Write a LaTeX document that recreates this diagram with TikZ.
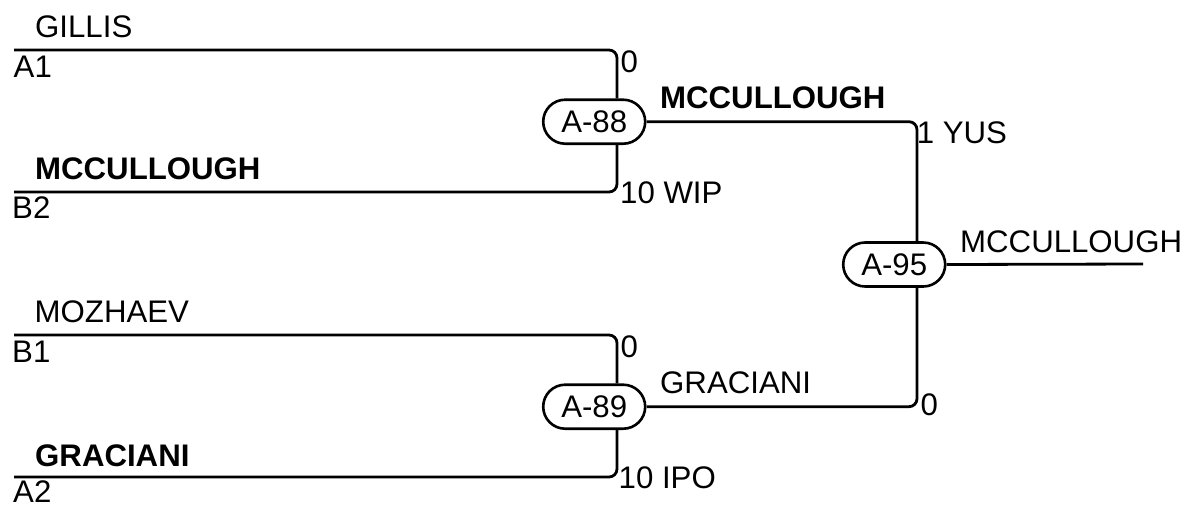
\documentclass[tikz,border=0pt]{standalone}
\usepackage{fontspec}
\setmainfont{Liberation Sans}
\begin{document}
\begin{tikzpicture}[x=1pt,y=-1pt,
  conn/.style={line width=2.8pt,rounded corners=8pt},
  match/.style={draw,line width=2.6pt,fill=white,rectangle,rounded corners=22pt,
    minimum width=102pt,minimum height=44pt,inner sep=0pt,
    font=\fontsize{31.2}{37}\selectfont},
  lbl/.style={anchor=base west,inner sep=0pt,font=\fontsize{31.2}{37}\selectfont},
  blbl/.style={lbl,font=\fontsize{31.2}{37}\selectfont\bfseries}]
\useasboundingbox (0,0) rectangle (1187,504);
% match nodes
\node[match] (m88) at (594.2,121.7) {A-88};
\node[match] (m89) at (594.2,406.7) {A-89};
\node[match] (m95) at (894.2,264.5) {A-95};
% helper coordinates
\coordinate (v88) at (617,0);
\coordinate (v95) at (917,0);
\coordinate (a1s) at (14,50);
\coordinate (b2s) at (14,192);
\coordinate (b1s) at (14,335);
\coordinate (a2s) at (14,477);
\coordinate (fin) at (1143,264);
% connectors
\draw[conn] (a1s) -| (v88 |- m88.north);
\draw[conn] (b2s) -| (v88 |- m88.south);
\draw[conn] (b1s) -| (v88 |- m89.north);
\draw[conn] (a2s) -| (v88 |- m89.south);
\draw[conn] (m88.east) -| (v95 |- m95.north);
\draw[conn] (m89.east) -| (v95 |- m95.south);
\draw[conn] (m95.east) -- (fin);
% left labels
\node[lbl] (tgillis) at (35,37) {GILLIS};
\node[lbl] (ta1) at (13.5,77) {A1};
\node[blbl] (tmcc1) at (35,179) {MCCULLOUGH};
\node[lbl] (tb2) at (12,218) {B2};
\node[lbl] (tmoz) at (34.5,322) {MOZHAEV};
\node[lbl] (tb1) at (12,362) {B1};
\node[blbl] (tgra1) at (35,466) {GRACIANI};
\node[lbl] (ta2) at (13,502) {A2};
% scores
\node[lbl] (s1) at (620.4,72) {0};
\node[lbl] (s2) at (620,203) {10 WIP};
\node[lbl] (s3) at (620.4,357) {0};
\node[lbl] (s4) at (618.5,488) {10 IPO};
\node[lbl] (s5) at (916.7,143) {1 YUS};
\node[lbl] (s6) at (920.4,415) {0};
% winners
\node[blbl] (w88) at (660,108) {MCCULLOUGH};
\node[lbl] (w89) at (660,393) {GRACIANI};
\node[lbl] (w95) at (960,252) {MCCULLOUGH};
\end{tikzpicture}
\end{document}
